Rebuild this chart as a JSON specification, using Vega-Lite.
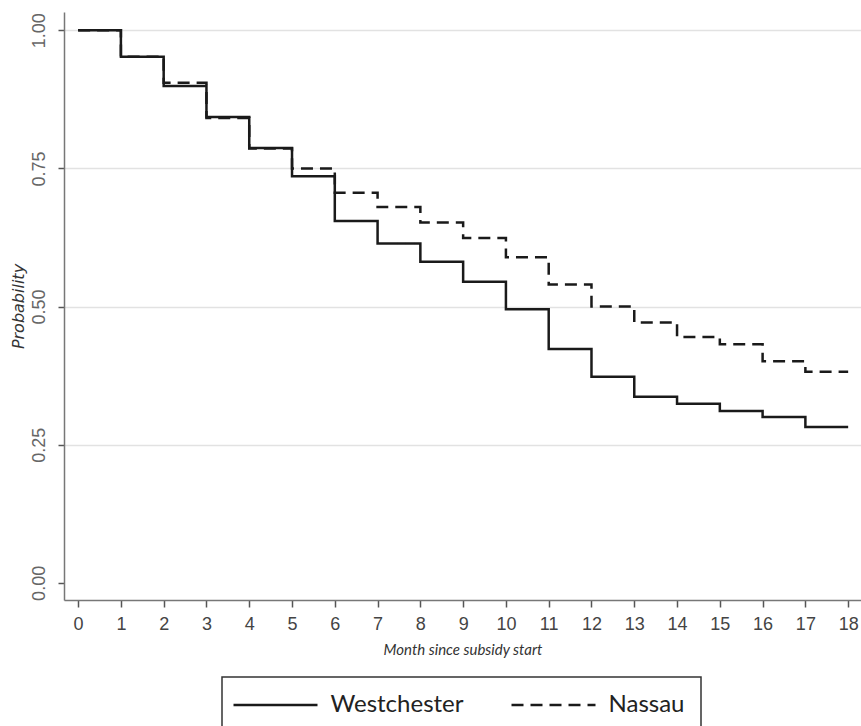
{
  "$schema": "https://vega.github.io/schema/vega-lite/v6.json",
  "width": 797,
  "height": 588,
  "autosize": {"type": "none"},
  "padding": {"left": 64, "top": 12, "right": 0, "bottom": 126},
  "background": "white",
  "config": {
    "view": {"stroke": null},
    "legend": {"strokeWidth": 1.5}
  },
  "data": {
    "values": [
      {"month": 0, "prob": 1.0, "county": "Westchester"},
      {"month": 1, "prob": 0.952, "county": "Westchester"},
      {"month": 2, "prob": 0.899, "county": "Westchester"},
      {"month": 3, "prob": 0.843, "county": "Westchester"},
      {"month": 4, "prob": 0.787, "county": "Westchester"},
      {"month": 5, "prob": 0.736, "county": "Westchester"},
      {"month": 6, "prob": 0.655, "county": "Westchester"},
      {"month": 7, "prob": 0.614, "county": "Westchester"},
      {"month": 8, "prob": 0.581, "county": "Westchester"},
      {"month": 9, "prob": 0.545, "county": "Westchester"},
      {"month": 10, "prob": 0.495, "county": "Westchester"},
      {"month": 11, "prob": 0.423, "county": "Westchester"},
      {"month": 12, "prob": 0.373, "county": "Westchester"},
      {"month": 13, "prob": 0.337, "county": "Westchester"},
      {"month": 14, "prob": 0.324, "county": "Westchester"},
      {"month": 15, "prob": 0.311, "county": "Westchester"},
      {"month": 16, "prob": 0.300, "county": "Westchester"},
      {"month": 17, "prob": 0.282, "county": "Westchester"},
      {"month": 18, "prob": 0.282, "county": "Westchester"},
      {"month": 0, "prob": 1.0, "county": "Nassau"},
      {"month": 1, "prob": 0.952, "county": "Nassau"},
      {"month": 2, "prob": 0.905, "county": "Nassau"},
      {"month": 3, "prob": 0.841, "county": "Nassau"},
      {"month": 4, "prob": 0.786, "county": "Nassau"},
      {"month": 5, "prob": 0.750, "county": "Nassau"},
      {"month": 6, "prob": 0.706, "county": "Nassau"},
      {"month": 7, "prob": 0.680, "county": "Nassau"},
      {"month": 8, "prob": 0.652, "county": "Nassau"},
      {"month": 9, "prob": 0.624, "county": "Nassau"},
      {"month": 10, "prob": 0.589, "county": "Nassau"},
      {"month": 11, "prob": 0.540, "county": "Nassau"},
      {"month": 12, "prob": 0.500, "county": "Nassau"},
      {"month": 13, "prob": 0.471, "county": "Nassau"},
      {"month": 14, "prob": 0.445, "county": "Nassau"},
      {"month": 15, "prob": 0.432, "county": "Nassau"},
      {"month": 16, "prob": 0.401, "county": "Nassau"},
      {"month": 17, "prob": 0.382, "county": "Nassau"},
      {"month": 18, "prob": 0.382, "county": "Nassau"}
    ]
  },
  "mark": {"type": "line", "interpolate": "step-after", "strokeWidth": 2.5, "color": "#1a1a1a"},
  "encoding": {
    "x": {
      "field": "month",
      "type": "quantitative",
      "scale": {"domain": [-0.33, 18.3], "nice": false, "zero": false},
      "axis": {
        "title": "Month since subsidy start",
        "values": [0,1,2,3,4,5,6,7,8,9,10,11,12,13,14,15,16,17,18],
        "format": "d",
        "grid": false,
        "domainColor": "#777777",
        "domainWidth": 1.5,
        "tickColor": "#555555",
        "tickWidth": 1.5,
        "tickSize": 7,
        "labelFont": "Liberation Sans",
        "labelFontSize": 18,
        "labelColor": "#444444",
        "labelPadding": 8,
        "labelFlush": false,
        "titleFont": "Lato",
        "titleFontStyle": "italic",
        "titleFontWeight": "normal",
        "titleFontSize": 15,
        "titleColor": "#333333",
        "titlePadding": 9
      }
    },
    "y": {
      "field": "prob",
      "type": "quantitative",
      "scale": {"domain": [-0.031, 1.033], "nice": false, "zero": false},
      "axis": {
        "title": "Probability",
        "values": [0, 0.25, 0.5, 0.75, 1],
        "format": ".2f",
        "grid": true,
        "gridColor": "#e2e2e2",
        "gridWidth": 1.5,
        "gridOpacity": {"condition": {"test": "datum.value == 0", "value": 0}, "value": 1},
        "domainColor": "#777777",
        "domainWidth": 1.5,
        "tickColor": "#555555",
        "tickWidth": 1.5,
        "tickSize": 6,
        "labelAngle": 270,
        "labelAlign": "center",
        "labelBaseline": "bottom",
        "labelFont": "Liberation Sans",
        "labelFontSize": 18,
        "labelColor": "#666666",
        "labelPadding": 10,
        "labelFlush": false,
        "titleFont": "DejaVu Sans",
        "titleFontStyle": "italic",
        "titleFontWeight": "normal",
        "titleFontSize": 16,
        "titleColor": "#333333",
        "titlePadding": 4
      }
    },
    "strokeDash": {
      "field": "county",
      "type": "nominal",
      "scale": {"domain": ["Westchester", "Nassau"], "range": [[1, 0], [12, 7]]},
      "legend": {
        "title": null,
        "orient": "none",
        "legendX": 158,
        "legendY": 665,
        "direction": "horizontal",
        "columns": 2,
        "padding": 16,
        "strokeColor": "#333333",
        "symbolType": "M-4,0H4",
        "symbolSize": 441,
        "symbolOffset": 25.5,
        "symbolStrokeWidth": 2.5,
        "symbolStrokeColor": "#1a1a1a",
        "labelFont": "Lato",
        "labelFontSize": 24,
        "labelColor": "#222222",
        "labelOffset": 43,
        "columnPadding": 42,
        "labelLimit": 400
      }
    }
  }
}
